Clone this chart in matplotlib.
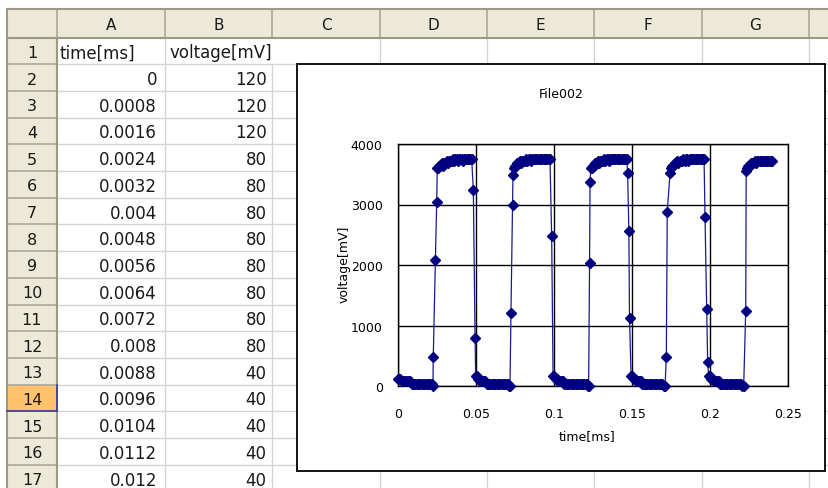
import matplotlib.pyplot as plt
from matplotlib.patches import Rectangle

# spreadsheet contents
col_letters = ["A", "B", "C", "D", "E", "F", "G"]
row_numbers = list(range(1, 18))
header_cells = ["time[ms]", "voltage[mV]"]
table_time = ["0", "0.0008", "0.0016", "0.0024", "0.0032", "0.004", "0.0048", "0.0056",
              "0.0064", "0.0072", "0.008", "0.0088", "0.0096", "0.0104", "0.0112", "0.012"]
table_voltage = [120, 120, 120, 80, 80, 80, 80, 80, 80, 80, 80, 40, 40, 40, 40, 40]
selected_row = 14

# chart series
time_ms = [
    0, 0.0008, 0.0016, 0.0024, 0.0032, 0.004, 0.0048, 0.0056, 0.0064, 0.0072, 0.008,
    0.0088, 0.0096, 0.0104, 0.0112, 0.012, 0.0128, 0.0136, 0.0144, 0.0152, 0.016, 0.0168,
    0.0176, 0.0184, 0.0192, 0.02, 0.0208, 0.0216, 0.0224,
    0.0226, 0.024, 0.0248, 0.0252,
    0.0258, 0.0264, 0.0272, 0.028, 0.0288, 0.0296, 0.0304, 0.0312, 0.032, 0.0328, 0.0336,
    0.0344, 0.0352, 0.036, 0.0368, 0.0376, 0.0384, 0.0392, 0.04, 0.0408, 0.0416, 0.0424,
    0.0432, 0.044, 0.0448, 0.0456, 0.0464, 0.0472,
    0.0483, 0.0494, 0.0498,
    0.0504, 0.0512, 0.052, 0.0528, 0.0536, 0.0544, 0.0552, 0.056, 0.0568, 0.0576, 0.0584,
    0.0592, 0.06, 0.0608, 0.0616, 0.0624, 0.0632, 0.064, 0.0648, 0.0656, 0.0664, 0.0672,
    0.068, 0.0688, 0.0696, 0.0704, 0.0712, 0.0718,
    0.0724, 0.0734, 0.0737,
    0.0744, 0.075, 0.0758, 0.0766, 0.0774, 0.0782, 0.079, 0.0798, 0.0806, 0.0814, 0.0822,
    0.083, 0.0838, 0.0846, 0.0854, 0.0862, 0.087, 0.0878, 0.0886, 0.0894, 0.0902, 0.091,
    0.0918, 0.0926, 0.0934, 0.0942, 0.095, 0.0958, 0.0966, 0.0974,
    0.0985, 0.0994,
    0.1002, 0.101, 0.1018, 0.1026, 0.1034, 0.1042, 0.105, 0.1058, 0.1066, 0.1074, 0.1082,
    0.109, 0.1098, 0.1106, 0.1114, 0.1122, 0.113, 0.1138, 0.1146, 0.1154, 0.1162, 0.117,
    0.1178, 0.1186, 0.1194, 0.1202, 0.121, 0.1218, 0.1222,
    0.1228, 0.1231, 0.1236,
    0.1242, 0.125, 0.1258, 0.1266, 0.1274, 0.1282, 0.129, 0.1298, 0.1306, 0.1314, 0.1322,
    0.133, 0.1338, 0.1346, 0.1354, 0.1362, 0.137, 0.1378, 0.1386, 0.1394, 0.1402, 0.141,
    0.1418, 0.1426, 0.1434, 0.1442, 0.145, 0.1458, 0.1466,
    0.1472, 0.148, 0.1484, 0.1494,
    0.1502, 0.151, 0.1518, 0.1526, 0.1534, 0.1542, 0.155, 0.1558, 0.1566, 0.1574, 0.1582,
    0.159, 0.1598, 0.1606, 0.1614, 0.1622, 0.163, 0.1638, 0.1646, 0.1654, 0.1662, 0.167,
    0.1678, 0.1686, 0.1694, 0.1702, 0.1712,
    0.172, 0.1726, 0.1744,
    0.175, 0.1758, 0.1766, 0.1774, 0.1782, 0.179, 0.1798, 0.1806, 0.1814, 0.1822, 0.183,
    0.1838, 0.1846, 0.1854, 0.1862, 0.187, 0.1878, 0.1886, 0.1894, 0.1902, 0.191, 0.1918,
    0.1926, 0.1934, 0.1942, 0.195, 0.1958, 0.1962,
    0.1968, 0.1979, 0.1985, 0.1992,
    0.2, 0.2008, 0.2016, 0.2024, 0.2032, 0.204, 0.2048, 0.2056, 0.2064, 0.2072, 0.208,
    0.2088, 0.2096, 0.2104, 0.2112, 0.212, 0.2128, 0.2136, 0.2144, 0.2152, 0.216, 0.2168,
    0.2176, 0.2184, 0.2192, 0.22, 0.2208, 0.2216,
    0.2229, 0.2232,
    0.2238, 0.2246, 0.2254, 0.2262, 0.227, 0.2278, 0.2286, 0.2294, 0.2302, 0.231, 0.2318,
    0.2326, 0.2334, 0.2342, 0.235, 0.2358, 0.2366, 0.2374, 0.2382, 0.239, 0.2398,
]
voltage_mv = [
    120, 120, 120, 80, 80, 80, 80, 80, 80, 80, 80,
    40, 40, 40, 40, 40, 40, 40, 40, 40, 40, 40,
    40, 40, 40, 40, 40, 40, 0,
    480, 2080, 3040, 3600,
    3600, 3640, 3640, 3680, 3640, 3680, 3680, 3720, 3680, 3720, 3720,
    3720, 3760, 3720, 3760, 3760, 3720, 3760, 3760, 3760, 3720, 3760,
    3760, 3760, 3760, 3760, 3760, 3760,
    3240, 800, 160,
    160, 120, 120, 80, 80, 80, 80, 80, 40, 40, 40,
    40, 40, 40, 40, 40, 40, 40, 40, 40, 40, 40,
    40, 40, 40, 40, 0, 0,
    1200, 2990, 3480,
    3600, 3640, 3640, 3680, 3680, 3720, 3680, 3720, 3720, 3720, 3760,
    3720, 3760, 3760, 3720, 3760, 3760, 3760, 3760, 3760, 3760, 3760,
    3760, 3760, 3760, 3760, 3760, 3760, 3760, 3760,
    2480, 160,
    160, 120, 120, 80, 80, 80, 80, 80, 40, 40, 40,
    40, 40, 40, 40, 40, 40, 40, 40, 40, 40, 40,
    40, 40, 40, 40, 40, 0, 0,
    2030, 3370, 3600,
    3600, 3640, 3640, 3680, 3680, 3720, 3680, 3720, 3720, 3720, 3760,
    3720, 3760, 3760, 3720, 3760, 3760, 3760, 3760, 3760, 3760, 3760,
    3760, 3760, 3760, 3760, 3760, 3760, 3760,
    3520, 2560, 1120, 170,
    160, 120, 120, 80, 80, 80, 80, 80, 40, 40, 40,
    40, 40, 40, 40, 40, 40, 40, 40, 40, 40, 40,
    40, 40, 40, 0, 0,
    480, 2880, 3520,
    3600, 3640, 3640, 3680, 3680, 3720, 3680, 3720, 3720, 3720, 3760,
    3720, 3760, 3760, 3720, 3760, 3760, 3760, 3760, 3760, 3760, 3760,
    3760, 3760, 3760, 3760, 3760, 3760,
    2800, 1280, 400, 160,
    160, 120, 120, 80, 80, 80, 80, 80, 40, 40, 40,
    40, 40, 40, 40, 40, 40, 40, 40, 40, 40, 40,
    40, 40, 40, 40, 0, 0,
    1240, 3560,
    3600, 3640, 3640, 3680, 3680, 3680, 3720, 3680, 3720, 3720, 3720,
    3720, 3720, 3720, 3720, 3720, 3720, 3720, 3720, 3720, 3720,
]
x_ticks = [0, 0.05, 0.1, 0.15, 0.2, 0.25]
x_tick_labels = ["0", "0.05", "0.1", "0.15", "0.2", "0.25"]
y_ticks = [0, 1000, 2000, 3000, 4000]
y_tick_labels = ["0", "1000", "2000", "3000", "4000"]

plt.rcParams["font.family"] = ["DejaVu Sans"]

W, H = 829, 489
fig = plt.figure(figsize=(W / 100, H / 100), dpi=100)
fig.patch.set_facecolor("white")
sheet = fig.add_axes([0, 0, 1, 1])
sheet.set_xlim(0, W)
sheet.set_ylim(H, 0)
sheet.axis("off")

head_bg = "#ECE9D8"
head_line = "#ACA899"
head_dark = "#9D9A84"
grid_col = "#D4D4D4"
text_col = "#1A1A1A"

x0, y0 = 7, 9.5
head_h = 29
row_h = 26.7
col_edges = [57, 165, 272.5, 380, 487, 594.5, 702, 809, 916]
row_top = y0 + head_h
row_edges = [row_top + i * row_h for i in range(len(row_numbers) + 1)]

# cell gridlines
for y in row_edges[1:]:
    sheet.plot([col_edges[0], W], [y, y], color=grid_col, lw=1, zorder=1)
for i, x in enumerate(col_edges[1:], start=1):
    ys = row_edges[1] if i == 2 else row_top  # text in B1 spills over into C1
    sheet.plot([x, x], [ys, H], color=grid_col, lw=1, zorder=1)

# header row and header column
sheet.add_patch(Rectangle((x0, y0), W - x0, head_h, fc=head_bg, ec="none", zorder=2))
sheet.add_patch(Rectangle((x0, row_top), col_edges[0] - x0, H - row_top, fc=head_bg, ec="none", zorder=2))
r_sel = row_edges[selected_row - 1]
sheet.add_patch(Rectangle((x0, r_sel), col_edges[0] - x0, row_h, fc="#FFC46C", ec="none", zorder=3))
for x in col_edges:
    sheet.plot([x, x], [y0, row_top], color=head_line, lw=1.2, zorder=3)
for y in row_edges[1:]:
    sheet.plot([x0, col_edges[0]], [y, y], color=head_line, lw=1.2, zorder=3)
sheet.plot([x0, W], [y0, y0], color=head_dark, lw=1.5, zorder=4)
sheet.plot([x0, W], [row_top, row_top], color=head_dark, lw=1.5, zorder=4)
sheet.plot([x0, x0], [y0, H], color=head_dark, lw=1.5, zorder=4)
sheet.plot([col_edges[0], col_edges[0]], [row_top, H], color=head_dark, lw=1.5, zorder=4)
sheet.plot([x0, col_edges[0]], [r_sel + row_h, r_sel + row_h], color="#3B3B9A", lw=1.2, zorder=5)
sheet.plot([col_edges[0], col_edges[0]], [r_sel, r_sel + row_h], color="#3B3B9A", lw=1.2, zorder=5)

for i, letter in enumerate(col_letters):
    sheet.text((col_edges[i] + col_edges[i + 1]) / 2, y0 + head_h / 2 + 1.5, letter,
               ha="center", va="center", fontsize=11, color=text_col, zorder=6)
for i, num in enumerate(row_numbers):
    sheet.text((x0 + col_edges[0]) / 2, row_edges[i] + row_h / 2 + 1.5, str(num),
               ha="center", va="center", fontsize=11.5, color=text_col, zorder=6)

# cell text
cell_fs = 12
sheet.text(col_edges[0] + 3, row_edges[0] + row_h / 2 + 1.5, header_cells[0],
           ha="left", va="center", fontsize=cell_fs, color=text_col, zorder=6)
sheet.text(col_edges[1] + 5, row_edges[0] + row_h / 2 + 1.5, header_cells[1],
           ha="left", va="center", fontsize=cell_fs, color=text_col, zorder=6)
for i, (t, v) in enumerate(zip(table_time, table_voltage)):
    yc = row_edges[i + 1] + row_h / 2 + 1.5
    sheet.text(col_edges[1] - 8, yc, t, ha="right", va="center", fontsize=cell_fs,
               color=text_col, zorder=6)
    sheet.text(col_edges[2] - 6, yc, str(v), ha="right", va="center", fontsize=cell_fs,
               color=text_col, zorder=6)

# embedded chart box
sheet.add_patch(Rectangle((297, 65), 528, 407, fc="white", ec="black", lw=1.3, zorder=10))

pl, pr, pt, pb = 398, 788, 145, 387
ax = fig.add_axes([pl / W, (H - pb) / H, (pr - pl) / W, (pb - pt) / H], zorder=11)
ax.plot(time_ms, voltage_mv, color="#1A1A8C", lw=0.9, marker="D", ms=5.4,
        mfc="#000080", mec="#000080", clip_on=False, zorder=3)
ax.set_xlim(0, 0.25)
ax.set_ylim(0, 4000)
ax.set_xticks(x_ticks)
ax.set_xticklabels(x_tick_labels)
ax.set_yticks(y_ticks)
ax.set_yticklabels(y_tick_labels)
ax.grid(True, color="black", lw=1)
ax.tick_params(length=0, labelsize=9, pad=11)
ax.tick_params(axis="x", pad=15)
for s in ax.spines.values():
    s.set_color("black")
    s.set_linewidth(1)
ax.set_xlabel("time[ms]", fontsize=9)
ax.xaxis.set_label_coords((587 - pl) / (pr - pl), (pb - 437) / (pb - pt))
ax.set_ylabel("voltage[mV]", fontsize=9)
ax.yaxis.set_label_coords((344 - pl) / (pr - pl), (pb - 264) / (pb - pt))
ax.xaxis.label.set_va("center")
ax.yaxis.label.set_va("center")
ax.text((561 - pl) / (pr - pl), (pb - 94) / (pb - pt), "File002", transform=ax.transAxes,
        ha="center", va="center", fontsize=9)

fig.savefig("out.png", dpi=100)
